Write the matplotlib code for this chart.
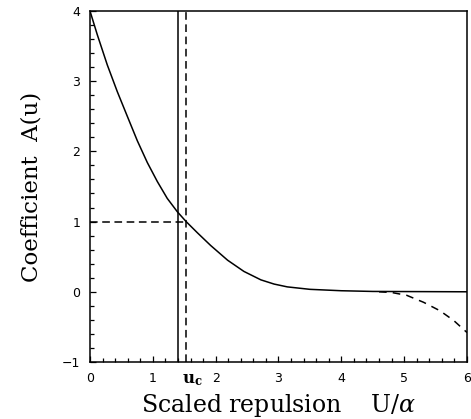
import numpy as np
import matplotlib.pyplot as plt
from matplotlib.ticker import MultipleLocator

plt.rcParams["mathtext.fontset"] = "dejavuserif"

# coefficient A(u) (upper, solid branch)
u_upper = [0.0, 0.117, 0.276, 0.435, 0.594, 0.754, 0.913, 1.072, 1.23, 1.39,
           1.53, 1.71, 1.92, 2.19, 2.45, 2.72, 2.93, 3.14, 3.5, 4.0, 4.5, 6.0]
a_upper = [4.0, 3.66, 3.23, 2.85, 2.50, 2.15, 1.84, 1.57, 1.33, 1.14,
           1.0, 0.84, 0.66, 0.45, 0.29, 0.17, 0.11, 0.07, 0.035, 0.015, 0.005, 0.0]

# lower, dashed branch
u_lower = [4.6, 4.8, 5.04, 5.31, 5.57, 5.79, 6.0]
a_lower = [0.0, -0.01, -0.05, -0.15, -0.27, -0.41, -0.58]

# marker lines
u_solid = 1.40
u_crit = 1.53
a_crit = 1.0

xticks = [0, 1, 2, 3, 4, 5, 6]
yticks = [-1, 0, 1, 2, 3, 4]

fig = plt.figure(figsize=(4.71, 4.19), dpi=100)
ax = fig.add_axes([0.191, 0.136, 0.8005, 0.838])

ax.plot(u_upper, a_upper, color="black", lw=1.1)
ax.plot(u_lower, a_lower, color="black", lw=1.1, linestyle=(0, (5, 4)))
ax.axvline(u_solid, color="black", lw=1.1)
ax.axvline(u_crit, color="black", lw=1.1, linestyle=(0, (5, 3)))
ax.plot([0, u_crit], [a_crit, a_crit], color="black", lw=1.1, linestyle=(0, (5, 3)))

ax.set_xlim(0, 6)
ax.set_ylim(-1, 4)
ax.set_xticks(xticks)
ax.set_yticks(yticks)
ax.xaxis.set_minor_locator(MultipleLocator(0.2))
ax.yaxis.set_minor_locator(MultipleLocator(0.2))
ax.tick_params(which="both", direction="in", top=False, right=False, width=0.9)
ax.tick_params(which="major", length=4, labelsize=9, pad=7)
ax.tick_params(which="minor", length=3)
for sp in ax.spines.values():
    sp.set_linewidth(1.1)

ax.text(1.47, -0.022, r"$\mathbf{u_c}$", transform=ax.get_xaxis_transform(),
        ha="left", va="top", fontsize=12)

ax.set_xlabel(r"Scaled repulsion    U/$\alpha$", fontsize=17, family="DejaVu Serif", labelpad=5)
ax.set_ylabel("Coefficient  A(u)", fontsize=16.5, family="DejaVu Serif", labelpad=14)

fig.savefig("out.png", dpi=100)
